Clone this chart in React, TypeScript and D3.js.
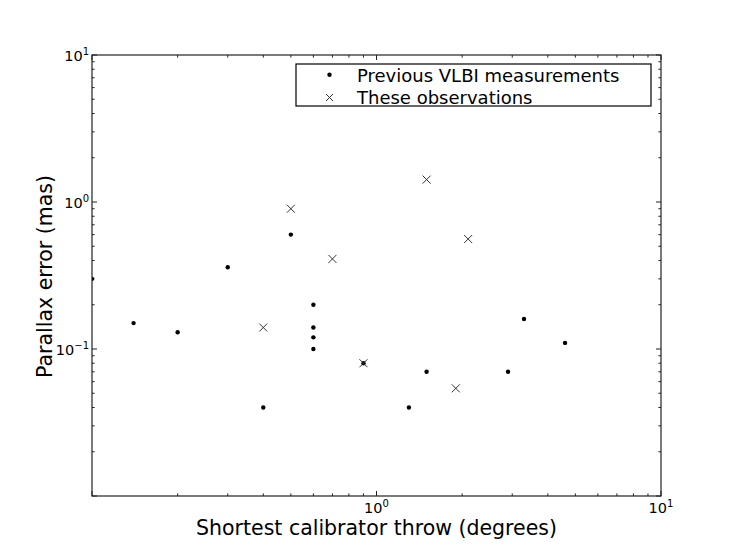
import * as d3 from "d3";

// previous VLBI measurements (throw in degrees, parallax error in mas)
const prevThrow = [0.1, 0.14, 0.2, 0.3, 0.4, 0.5, 0.6, 0.6, 0.6, 0.6, 0.9, 1.3, 1.5, 2.9, 3.3, 4.6];
const prevError = [0.3, 0.15, 0.13, 0.36, 0.04, 0.6, 0.2, 0.14, 0.12, 0.1, 0.08, 0.04, 0.07, 0.07, 0.16, 0.11];

// these observations
const newThrow = [0.4, 0.5, 0.7, 0.9, 1.5, 1.9, 2.1];
const newError = [0.14, 0.9, 0.41, 0.08, 1.42, 0.054, 0.56];

const xTickExp = [0, 1];
const yTickExp = [-1, 0, 1];
const legendLabels = ["Previous VLBI measurements", "These observations"];

const W = 736;
const H = 552;
const margin = { top: 55, right: 75, bottom: 56, left: 92 };

const FONT = "DejaVu Sans, sans-serif";

const App = () => {
  const innerW = W - margin.left - margin.right;
  const innerH = H - margin.top - margin.bottom;

  const x = d3.scaleLog().domain([0.1, 10]).range([0, innerW]);
  const y = d3.scaleLog().domain([0.01, 10]).range([innerH, 0]);

  // major + minor tick values
  const minorVals = (lo: number, hi: number) => {
    const out: number[] = [];
    for (let e = lo; e < hi; e++) {
      for (let m = 2; m <= 9; m++) out.push(m * Math.pow(10, e));
    }
    return out;
  };
  const xMajor = [0.1, 1, 10];
  const yMajor = [0.01, 0.1, 1, 10];
  const xMinor = minorVals(-1, 1);
  const yMinor = minorVals(-2, 1);

  const major = 5;
  const minor = 2.6;
  const tickColor = "#222";

  const prev = prevThrow.map((t, i) => ({ t, e: prevError[i] }));
  const obs = newThrow.map((t, i) => ({ t, e: newError[i] }));

  const expLabel = (e: number) => (e < 0 ? "\u2212" + Math.abs(e) : String(e));

  return (
    <svg
      width={W}
      height={H}
      style={{ position: "absolute", left: 0, top: 0, background: "#fff" }}
      fontFamily={FONT}
    >
      <defs>
        <clipPath id="plotClip">
          <rect x={0} y={0} width={innerW} height={innerH} />
        </clipPath>
      </defs>
      <g transform={`translate(${margin.left},${margin.top})`}>
        {/* ticks, pointing inward on all four sides */}
        {xMajor.map((v) => (
          <g key={"xM" + v}>
            <line x1={x(v)} x2={x(v)} y1={innerH} y2={innerH - major} stroke={tickColor} />
            <line x1={x(v)} x2={x(v)} y1={0} y2={major} stroke={tickColor} />
          </g>
        ))}
        {xMinor.map((v) => (
          <g key={"xm" + v}>
            <line x1={x(v)} x2={x(v)} y1={innerH} y2={innerH - minor} stroke={tickColor} />
            <line x1={x(v)} x2={x(v)} y1={0} y2={minor} stroke={tickColor} />
          </g>
        ))}
        {yMajor.map((v) => (
          <g key={"yM" + v}>
            <line x1={0} x2={major} y1={y(v)} y2={y(v)} stroke={tickColor} />
            <line x1={innerW} x2={innerW - major} y1={y(v)} y2={y(v)} stroke={tickColor} />
          </g>
        ))}
        {yMinor.map((v) => (
          <g key={"ym" + v}>
            <line x1={0} x2={minor} y1={y(v)} y2={y(v)} stroke={tickColor} />
            <line x1={innerW} x2={innerW - minor} y1={y(v)} y2={y(v)} stroke={tickColor} />
          </g>
        ))}

        {/* data */}
        <g clipPath="url(#plotClip)">
          {prev.map((d, i) => (
            <circle key={"p" + i} cx={x(d.t)} cy={y(d.e)} r={2.2} fill="#000" />
          ))}
          {obs.map((d, i) => {
            const cx = x(d.t);
            const cy = y(d.e);
            const s = 4;
            return (
              <path
                key={"o" + i}
                d={`M${cx - s},${cy - s}L${cx + s},${cy + s}M${cx - s},${cy + s}L${cx + s},${cy - s}`}
                stroke="#333"
                strokeWidth={1}
                fill="none"
              />
            );
          })}
        </g>

        {/* frame */}
        <rect x={0} y={0} width={innerW} height={innerH} fill="none" stroke="#222" strokeWidth={1.2} />

        {/* tick labels */}
        {xTickExp.map((e) => (
          <text key={"xl" + e} x={x(Math.pow(10, e))} y={innerH + 17} textAnchor="middle" fontSize={14.5} fill="#000">
            10<tspan dy={-6} fontSize={10}>{expLabel(e)}</tspan>
          </text>
        ))}
        {yTickExp.map((e) => (
          <text key={"yl" + e} x={-3} y={y(Math.pow(10, e)) + 6} textAnchor="end" fontSize={14.5} fill="#000">
            10<tspan dy={-6} fontSize={10}>{expLabel(e)}</tspan>
          </text>
        ))}

        {/* legend */}
        <g transform={`translate(${296 - margin.left},${64 - margin.top})`}>
          <rect x={0} y={0} width={355} height={42} fill="#fff" stroke="#000" strokeWidth={1.2} />
          <circle cx={33.5} cy={10.8} r={2.2} fill="#000" />
          <path d="M30,30L37,37M30,37L37,30" stroke="#333" strokeWidth={1} />
          <text x={61} y={18} fontSize={18} fill="#000">{legendLabels[0]}</text>
          <text x={61} y={39.5} fontSize={18} fill="#000">{legendLabels[1]}</text>
        </g>

        {/* axis labels */}
        <text x={innerW / 2} y={innerH + 39} textAnchor="middle" fontSize={20.5} fill="#000">
          Shortest calibrator throw (degrees)
        </text>
        <text
          transform={`translate(${-40.5},${innerH / 2 + 1}) rotate(-90)`}
          textAnchor="middle"
          fontSize={20.5}
          fill="#000"
        >
          Parallax error (mas)
        </text>
      </g>
    </svg>
  );
};

export default App;
